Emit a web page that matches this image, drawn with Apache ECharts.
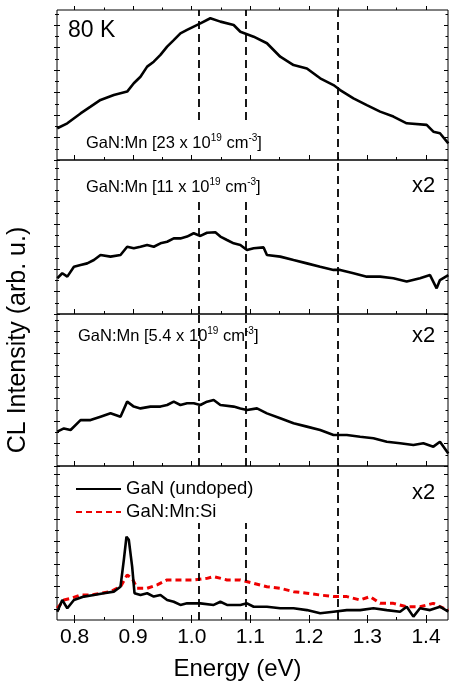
<!DOCTYPE html>
<html><head><meta charset="utf-8">
<script src="https://cdn.jsdelivr.net/npm/echarts@6/dist/echarts.min.js"></script>
<style>html,body{margin:0;padding:0;background:#fff}#c{width:450px;height:682px}</style>
</head><body><div id="c"></div>
<script>
// ---- data (energy in eV, intensity in arb. units) ----
const energy23 = [0.7705,0.7876,0.8102,0.8273,0.8443,0.8670,0.8898,0.9011,0.9125,0.9239,0.9352,0.9466,0.9580,0.9693,0.9807,0.9920,1.0034,1.0148,1.0318,1.0489,1.0716,1.0830,1.1057,1.1284,1.1511,1.1738,1.1966,1.2193,1.2420,1.2534,1.2761,1.2989,1.3216,1.3443,1.3670,1.4011,1.4125,1.4238,1.4380];
const intensity23 = [1.41,1.63,2.07,2.37,2.67,2.89,3.04,3.41,3.70,4.15,4.37,4.67,5.04,5.33,5.63,5.78,5.93,6.07,6.30,6.15,6.00,5.70,5.48,5.19,4.59,4.22,4.07,3.63,3.33,3.11,2.74,2.44,2.15,1.93,1.63,1.56,1.26,1.19,0.74];

const energy11 = [0.7705,0.7790,0.7876,0.7989,0.8102,0.8216,0.8330,0.8443,0.8614,0.8784,0.8898,0.9011,0.9125,0.9239,0.9352,0.9466,0.9580,0.9693,0.9807,0.9920,1.0034,1.0148,1.0261,1.0403,1.0489,1.0602,1.0716,1.0830,1.0943,1.1057,1.1227,1.1284,1.1511,1.1738,1.1966,1.2193,1.2420,1.2534,1.2761,1.2989,1.3216,1.3443,1.3670,1.3897,1.4068,1.4181,1.4238,1.4380];
const intensity11 = [1.59,1.81,1.66,2.10,2.18,2.25,2.40,2.62,2.55,2.62,2.99,2.92,2.99,3.07,2.99,3.14,3.21,3.36,3.36,3.44,3.59,3.47,3.61,3.63,3.44,3.29,3.14,3.07,2.84,2.92,2.96,2.62,2.55,2.40,2.25,2.10,1.96,1.96,1.81,1.66,1.66,1.59,1.44,1.59,1.73,1.14,1.51,1.73];

const energy54 = [0.7705,0.7818,0.7932,0.8102,0.8273,0.8443,0.8614,0.8784,0.8898,0.9011,0.9125,0.9295,0.9466,0.9580,0.9693,0.9807,0.9920,1.0034,1.0148,1.0261,1.0375,1.0489,1.0716,1.0830,1.0943,1.1114,1.1284,1.1511,1.1738,1.1966,1.2193,1.2420,1.2648,1.2875,1.3102,1.3330,1.3557,1.3784,1.3954,1.4125,1.4238,1.4380];
const intensity54 = [1.53,1.67,1.60,2.04,2.04,2.19,2.34,2.19,2.86,2.64,2.56,2.64,2.64,2.71,2.86,2.71,2.79,2.79,2.71,2.86,2.93,2.71,2.64,2.56,2.49,2.56,2.34,2.12,1.90,1.75,1.60,1.38,1.38,1.30,1.23,1.08,1.01,0.93,1.01,0.86,1.08,0.56];

const energyUndoped = [0.7705,0.7790,0.7876,0.7989,0.8159,0.8330,0.8500,0.8670,0.8784,0.8841,0.8886,0.8926,0.8983,0.9023,0.9125,0.9239,0.9352,0.9466,0.9580,0.9693,0.9807,0.9920,1.0148,1.0375,1.0489,1.0602,1.0830,1.0943,1.1057,1.1284,1.1511,1.1738,1.1966,1.2193,1.2420,1.2648,1.2875,1.3102,1.3330,1.3557,1.3670,1.3784,1.3897,1.4068,1.4238,1.4380];
const intensityUndoped = [0.37,0.89,0.52,0.89,1.04,1.11,1.19,1.26,1.48,2.67,3.70,3.56,2.37,1.19,1.11,1.19,1.04,1.11,0.89,0.81,0.67,0.74,0.74,0.67,0.81,0.67,0.67,0.74,0.59,0.59,0.52,0.52,0.44,0.30,0.37,0.44,0.44,0.52,0.44,0.37,0.59,0.15,0.52,0.44,0.59,0.37];

const energyMnSi = [0.7705,0.7818,0.7932,0.8102,0.8273,0.8443,0.8614,0.8784,0.8898,0.8983,0.9068,0.9239,0.9409,0.9580,0.9807,1.0034,1.0261,1.0375,1.0602,1.0830,1.1057,1.1284,1.1511,1.1738,1.1966,1.2193,1.2420,1.2648,1.2875,1.3045,1.3216,1.3443,1.3670,1.3897,1.4125,1.4238,1.4380];
const intensityMnSi = [0.52,0.89,0.96,1.11,1.11,1.19,1.26,1.48,2.00,1.85,1.41,1.41,1.56,1.78,1.78,1.78,1.85,1.93,1.78,1.78,1.63,1.48,1.41,1.26,1.19,1.11,1.04,1.04,0.89,1.04,0.74,0.74,0.59,0.59,0.74,0.59,0.44];

const xTickValues = [0.8,0.9,1.0,1.1,1.2,1.3,1.4];
const xTickLabels = ['0.8','0.9','1.0','1.1','1.2','1.3','1.4'];
const xMinorTickValues = [0.85,0.95,1.05,1.15,1.25,1.35];
const yMajorTicksA = [0,1,2,3,4,5,6];
const yMinorTicksA = [0.5,1.5,2.5,3.5,4.5,5.5,6.5];
const yMajorTicksB = [0.5,1.5,2.5,3.5,4.5,5.5,6.5];
const yMinorTicksB = [1,2,3,4,5,6];
const dashEnergies = [1.012,1.092,1.25];
const seriesNames = ['GaN (undoped)','GaN:Mn:Si'];

// ---- layout ----
const FONT = "'Liberation Sans', Arial, Helvetica, sans-serif";
const X_MIN = 0.77, X_MAX = 1.4375;
const PX_PER_UNIT = 22.5;
const panels = [
  {top:10, height:150, e:energy23, v:intensity23, major:yMajorTicksA, minor:yMinorTicksA, dashFrom:[1.78,1.78,0], dashTo:[null,null,null]},
  {top:160, height:154, e:energy11, v:intensity11, major:yMajorTicksA, minor:yMinorTicksA, dashFrom:[0,0,0], dashTo:[5.07,5.07,null]},
  {top:314, height:152, e:energy54, v:intensity54, major:yMajorTicksA, minor:yMinorTicksA, dashFrom:[0,0,0], dashTo:[null,null,null]},
  {top:466, height:154, e:energyUndoped, v:intensityUndoped, major:yMajorTicksB, minor:yMinorTicksB, dashFrom:[0,0,0], dashTo:[4.31,4.31,null]}
];

const grids=[], xAxes=[], yAxes=[], series=[];
function tick(len, inside, vals){ return {show:true, inside:inside, length:len, customValues:vals, lineStyle:{color:'#000', width:1}}; }
function addX(g, pos, vals, len, inside, labels){
  xAxes.push({type:'value', gridIndex:g, position:pos, min:X_MIN, max:X_MAX,
    axisLine:{show:false, onZero:false}, splitLine:{show:false},
    axisTick:tick(len, inside, vals),
    axisLabel: labels ? {show:true, customValues:xTickValues, margin:7, fontSize:21, fontFamily:FONT, color:'#000',
      formatter:function(v){ const i = xTickValues.findIndex(t=>Math.abs(t-v)<1e-6); return i>=0 ? xTickLabels[i] : ''; }} : {show:false}
  });
  return xAxes.length-1;
}
function addY(g, pos, vals, len, inside, max){
  yAxes.push({type:'value', gridIndex:g, position:pos, min:0, max:max,
    axisLine:{show:false, onZero:false}, splitLine:{show:false},
    axisTick:tick(len, inside, vals), axisLabel:{show:false}});
  return yAxes.length-1;
}

panels.forEach(function(p, g){
  grids.push({left:57, width:391, top:p.top, height:p.height, show:true, borderColor:'#000', borderWidth:1, backgroundColor:'transparent'});
  const yMax = p.height / PX_PER_UNIT;
  const xi = addX(g, 'bottom', xTickValues, 5, true, g===3);
  addX(g, 'bottom', xMinorTickValues, 3, true, false);
  if (g===3) addX(g, 'bottom', xTickValues, 3, false, false);
  if (g===0) { addX(g, 'top', xTickValues, 4, false, false); addX(g, 'top', xMinorTickValues, 2.5, false, false); }
  const yi = addY(g, 'left', p.major, 3, false, yMax);
  addY(g, 'left', p.major, 3, true, yMax);
  addY(g, 'left', p.minor.filter(v=>v<yMax), 2, false, yMax);
  addY(g, 'left', p.minor.filter(v=>v<yMax), 2, true, yMax);
  addY(g, 'right', p.major, 4, true, yMax);
  addY(g, 'right', p.minor.filter(v=>v<yMax), 2.5, true, yMax);

  const dashData = dashEnergies.map(function(x, k){
    const from = p.dashFrom[k], to = p.dashTo[k] === null ? yMax : p.dashTo[k];
    return [{coord:[x, from]}, {coord:[x, to]}];
  });
  series.push({
    type:'line', name: g===3 ? seriesNames[0] : ('panel'+g), xAxisIndex:xi, yAxisIndex:yi,
    data: p.e.map((e,i)=>[e, p.v[i]]), symbol:'none', showSymbol:false, animation:false, z:5,
    lineStyle:{color:'#000', width:2.6}, itemStyle:{color:'#000'},
    markLine:{silent:true, symbol:['none','none'], animation:false, label:{show:false},
      lineStyle:{color:'#000', type:[8,5], width:1.8}, emphasis:{disabled:true}, data:dashData}
  });
  if (g===3) {
    series.push({
      type:'line', name:seriesNames[1], xAxisIndex:xi, yAxisIndex:yi,
      data: energyMnSi.map((e,i)=>[e, intensityMnSi[i]]), symbol:'none', showSymbol:false, animation:false, z:4,
      lineStyle:{color:'#ee0000', width:3, type:[6,4]}, itemStyle:{color:'#ee0000'}
    });
  }
});

function label(text, x, y, size){
  return {type:'text', x:x, y:y, silent:true, style:{text:text, fontSize:size, fontFamily:FONT, fill:'#000', align:'left', verticalAlign:'middle'}};
}
function concLabel(num, x, y){
  return {type:'text', x:x, y:y, silent:true, style:{
    text:'{n|GaN:Mn [' + num + ' x 10}{s|19}{n| cm}{s|-3}{n|]}',
    fontFamily:FONT, fill:'#000', align:'left', verticalAlign:'middle',
    rich:{n:{fontSize:16.5, fontFamily:FONT, lineHeight:20, fill:'#000'}, s:{fontSize:10, fontFamily:FONT, lineHeight:10, verticalAlign:'top', fill:'#000'}}
  }};
}

const option = {
  backgroundColor:'#fff', animation:false,
  grid:grids, xAxis:xAxes, yAxis:yAxes, series:series,
  legend:{data:seriesNames, orient:'vertical', left:75, top:479, padding:0, itemWidth:45, itemHeight:14, itemGap:3,
    selectedMode:false, itemStyle:{opacity:0, borderWidth:0},
    textStyle:{fontSize:18.5, fontFamily:FONT, color:'#000', lineHeight:20}},
  graphic:[
    label('80 K', 68, 31, 23),
    concLabel('23', 86, 143.5),
    concLabel('11', 86, 187),
    concLabel('5.4', 78, 336),
    label('x2', 412, 186, 22),
    label('x2', 412, 336, 22),
    label('x2', 412, 493, 22),
    {type:'text', x:18, y:340, rotation:Math.PI/2, silent:true, style:{text:'CL Intensity (arb. u.)', fontSize:25, fontFamily:FONT, fill:'#000', align:'center', verticalAlign:'middle'}},
    {type:'text', x:237.5, y:669, silent:true, style:{text:'Energy (eV)', fontSize:24, fontFamily:FONT, fill:'#000', align:'center', verticalAlign:'middle'}}
  ]
};
const chart = echarts.init(document.getElementById('c'), null, {renderer:'canvas'});
chart.setOption(option);
</script></body></html>
